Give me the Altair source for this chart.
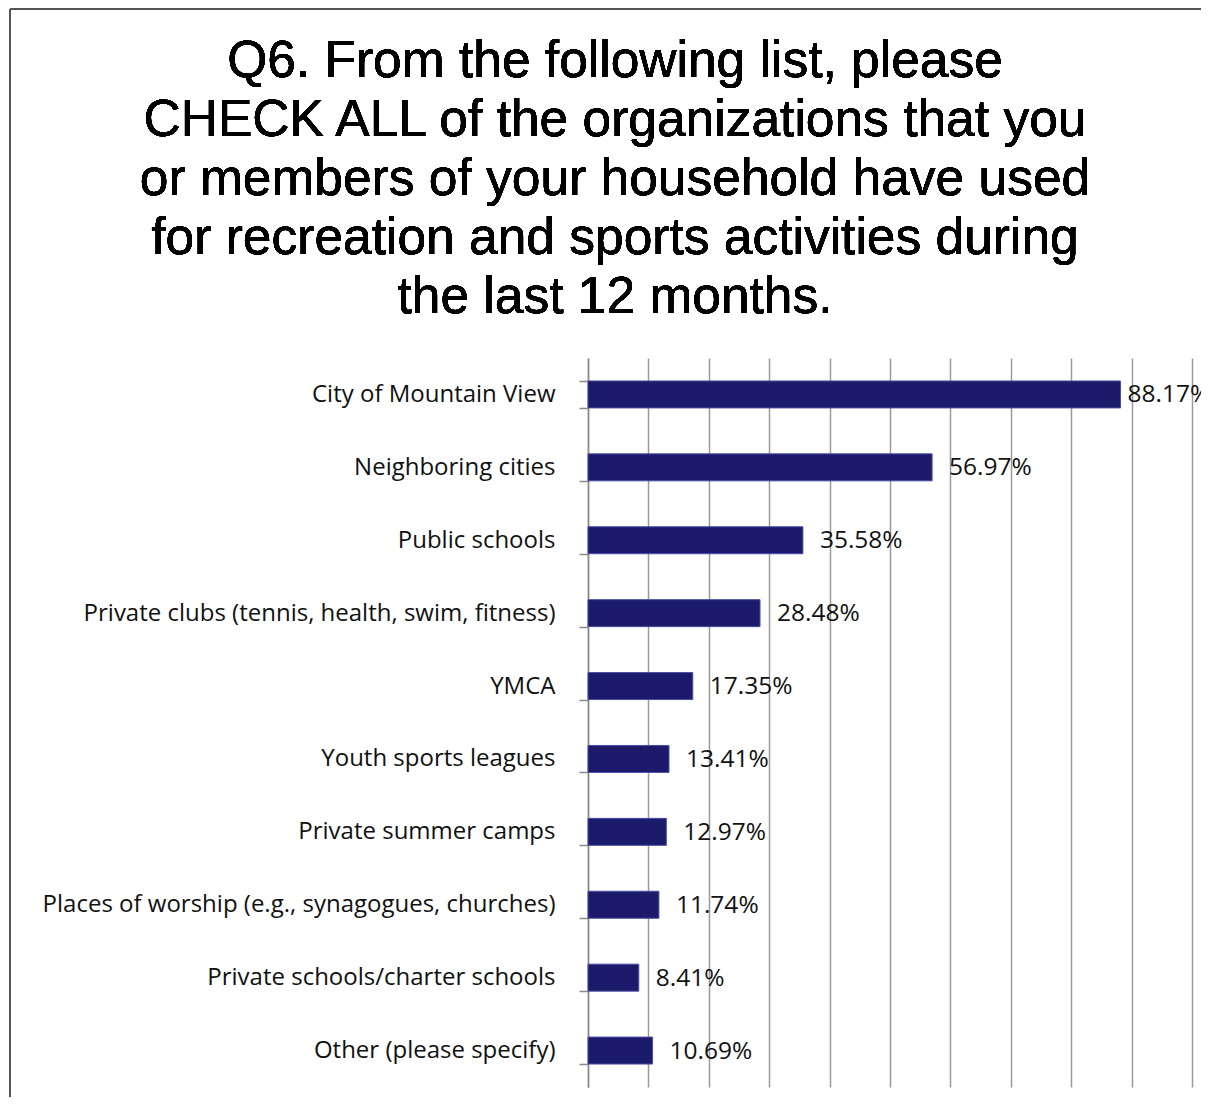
import altair as alt
import pandas as pd

categories = [
    "City of Mountain View",
    "Neighboring cities",
    "Public schools",
    "Private clubs (tennis, health, swim, fitness)",
    "YMCA",
    "Youth sports leagues",
    "Private summer camps",
    "Places of worship (e.g., synagogues, churches)",
    "Private schools/charter schools",
    "Other (please specify)",
]
values = [88.17, 56.97, 35.58, 28.48, 17.35, 13.41, 12.97, 11.74, 8.41, 10.69]
title_lines = [
    "Q6. From the following list, please",
    "CHECK ALL of the organizations that you",
    "or members of your household have used",
    "for recreation and sports activities during",
    "the last 12 months.",
]

df = pd.DataFrame({"category": categories, "value": values})

LABEL_FONT = "Open Sans"

x_enc = alt.X("value:Q", scale=alt.Scale(domain=[0, 100], nice=False),
              axis=alt.Axis(values=list(range(0, 101, 10)), grid=True, gridColor="#9a9a9a",
                            gridWidth=1.5, domain=False, ticks=False, labels=False, title=None))
y_enc = alt.Y("category:N", sort=categories, scale=alt.Scale(paddingInner=0.63, paddingOuter=0.315),
              axis=alt.Axis(title=None, tickBand="extent", domainColor="#8a8a8a", domainWidth=1.5,
                            tickColor="#8a8a8a", tickWidth=1.5, tickSize=9, labelPadding=24,
                            labelFont=LABEL_FONT, labelFontSize=24, labelColor="#111111",
                            labelLimit=600, grid=False))

base = alt.Chart(df)

bars = base.mark_bar(color="#1c1b6b", stroke="#4a4ea6", strokeWidth=1).encode(x=x_enc, y=y_enc)

labels_main = base.transform_filter("datum.value < 80").transform_calculate(
    lbl="format(datum.value, '.2f') + '%'"
).mark_text(align="left", baseline="middle", dx=17, dy=1, font=LABEL_FONT, fontSize=24.5,
            color="#111111").encode(
    x="value:Q", y=alt.Y("category:N", sort=categories), text="lbl:N")

labels_top = base.transform_filter("datum.value >= 80").transform_calculate(
    lbl="format(datum.value, '.2f') + '%'"
).mark_text(align="left", baseline="middle", dx=7, dy=1, font=LABEL_FONT, fontSize=24.5,
            color="#111111").encode(
    x="value:Q", y=alt.Y("category:N", sort=categories), text="lbl:N")

title = alt.Chart(df).mark_text(align="center", baseline="alphabetic", font="Liberation Sans",
                                fontSize=51.5, lineHeight=59, color="#000000").encode(
    x=alt.value(27), y=alt.value(-281), text=alt.value(title_lines))

frame_top = alt.Chart(df).mark_rule(color="#555555", strokeWidth=1.2).encode(
    x=alt.value(-578), x2=alt.value(640), y=alt.value(-349))
frame_left = alt.Chart(df).mark_rule(color="#555555", strokeWidth=1.2).encode(
    x=alt.value(-578), y=alt.value(-349), y2=alt.value(760))

chart = alt.layer(frame_top, frame_left, title, bars, labels_main, labels_top).properties(
    width=604, height=729,
    autosize=alt.AutoSizeParams(type="none"),
    padding={"left": 580, "top": 350, "right": 9, "bottom": 10},
).configure_view(stroke=None)

chart.save("out.html", embed_options={"renderer": "svg", "actions": False})
